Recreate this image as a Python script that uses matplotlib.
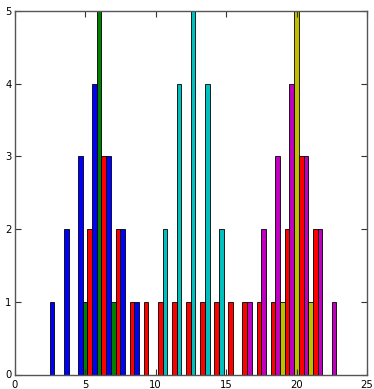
import numpy as np
import matplotlib
matplotlib.use('Agg')
import matplotlib.pyplot as plt
from matplotlib import font_manager

# Bin centres (integers) and counts per series; each bin is split in thirds
blueBins = [3, 4, 5, 6, 7, 8, 9]
blueCounts = [1, 2, 3, 4, 3, 2, 1]
greenBins = [5, 6, 7]
greenCounts = [1, 5, 1]
redBins = [5, 6, 7, 8, 9, 10, 11, 12, 13, 14, 15, 16, 17, 18, 19, 20, 21]
redCounts = [2, 3, 2, 1, 1, 1, 1, 1, 1, 1, 1, 1, 1, 1, 2, 3, 2]
cyanBins = [11, 12, 13, 14, 15]
cyanCounts = [2, 4, 5, 4, 2]
magentaBins = [17, 18, 19, 20, 21, 22, 23]
magentaCounts = [1, 2, 3, 4, 3, 2, 1]
yellowBins = [19, 20, 21]
yellowCounts = [1, 5, 1]

# narrow font for the tick labels
names = set(f.name for f in font_manager.fontManager.ttflist)
if 'Liberation Sans Narrow' in names:
	plt.rcParams['font.family'] = ['Liberation Sans Narrow', 'DejaVu Sans']
	plt.rcParams['font.stretch'] = 'normal'
else:
	plt.rcParams['font.family'] = ['DejaVu Sans']
	plt.rcParams['font.stretch'] = 'condensed'

fig = plt.figure(figsize=(3.74, 3.89), dpi=100, facecolor='white')
ax = fig.add_axes([14.5/374.0, 14.5/389.0, 352.5/374.0, 363.5/389.0])

w = 1.0 / 3.0
# slot 0: left third, slot 1: middle third, slot 2: right third
series = [
	(blueBins, blueCounts, 0, '#0000ff'),
	(greenBins, greenCounts, 1, '#008000'),
	(redBins, redCounts, 2, '#ff0000'),
	(cyanBins, cyanCounts, 0, '#00bfbf'),
	(magentaBins, magentaCounts, 0, '#bf00bf'),
	(yellowBins, yellowCounts, 1, '#bfbf00'),
]
for bins, counts, slot, color in series:
	left = np.array(bins) - 0.5 + slot * w
	ax.bar(left, counts, width=w, align='edge', color=color,
		edgecolor='black', linewidth=0.6)

ax.set_xlim(0, 25)
ax.set_ylim(0, 5)
ax.set_xticks(np.arange(0, 26, 5))
ax.set_yticks(np.arange(0, 6, 1))
ax.tick_params(direction='in', length=4, width=0.8, top=True, right=True,
	labelsize=8, color='#333333')
ax.tick_params(axis='x', pad=4)
ax.tick_params(axis='y', pad=2)
for s in ax.spines.values():
	s.set_color('#555555')
	s.set_linewidth(1.0)

plt.savefig('out.png', dpi=100)
